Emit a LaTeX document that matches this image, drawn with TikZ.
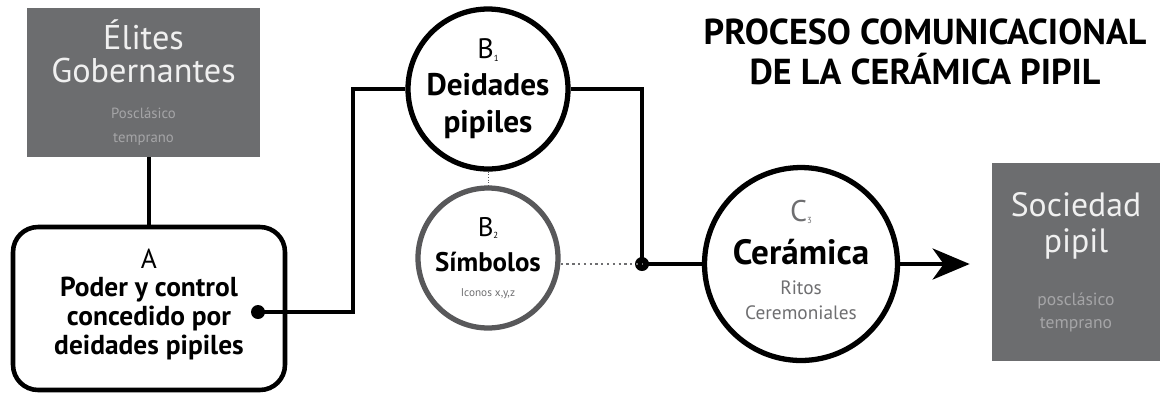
\documentclass[tikz,border=0pt]{standalone}
\usepackage{fontspec}
\setmainfont{PT Sans}
\usetikzlibrary{arrows.meta}

\definecolor{boxgray}{RGB}{108,109,111}
\definecolor{subgray}{RGB}{165,165,167}
\definecolor{ringgray}{RGB}{88,88,90}
\definecolor{notegray}{RGB}{110,110,112}

\newcommand{\idx}[1]{\raisebox{-0.15ex}{\fontsize{5}{5}\selectfont #1}}
\newcommand{\dropline}[1]{\rule[-#1]{0pt}{0pt}}

\tikzset{
  darkbox/.style={fill=boxgray, text=white!94!black, align=center, inner sep=0pt},
  ring/.style={circle, draw, line width=3pt, align=center, inner sep=0pt},
  link/.style={line width=2.6pt},
  junction/.style={circle, fill, inner sep=0pt, minimum size=0.28cm},
}

\begin{document}
\begin{tikzpicture}[x=0.02cm, y=-0.02cm]
    \useasboundingbox (0,0) rectangle (1163,393);

    % title
    \node [align=center, font=\fontsize{20.5}{22.5}\selectfont\bfseries] (title) at (925,52)
        {PROCESO COMUNICACIONAL\\DE LA CERÁMICA PIPIL};

    % boxes
    \node [darkbox, minimum width=4.66cm, minimum height=2.98cm,
           font=\fontsize{19.5}{18.5}\selectfont] (elites) at (143.5,82.5)
        {Élites\\Gobernantes\\[2pt]
         {\fontsize{8.4}{10}\selectfont\color{subgray}Posclásico}\\[-5pt]
         {\fontsize{8.4}{10}\selectfont\color{subgray}temprano}};

    \node [draw, link, rounded corners=0.5cm, align=center, minimum width=5.44cm,
           minimum height=3.26cm, font=\fontsize{15.6}{16.4}\selectfont] (poder) at (149,308.5)
        {{\mdseries A}\\\textbf{Poder y control}\\\textbf{concedido por}\\\textbf{deidades pipiles}\dropline{8pt}};

    \node [darkbox, minimum width=3.36cm, minimum height=3.96cm,
           font=\fontsize{19.2}{21}\selectfont] (sociedad) at (1076,262)
        {Sociedad\\pipil\\[9pt]
         {\fontsize{10}{12}\selectfont\color{subgray}posclásico}\\[-8pt]
         {\fontsize{10}{12}\selectfont\color{subgray}temprano}};

    % circles
    \node [ring, minimum size=3.2cm, font=\fontsize{17.8}{21}\selectfont] (deidades) at (488,89)
        {{\mdseries\fontsize{16}{21}\selectfont B\idx{1}}\\\textbf{Deidades}\\\textbf{pipiles}};

    \node [ring, draw=ringgray, minimum size=2.8cm, font=\fontsize{15.3}{20}\selectfont] (simbolos) at (488,258)
        {B\idx{2}\\\textbf{Símbolos}\\[-6pt]{\fontsize{6.4}{8}\selectfont\color{notegray}Iconos x,y,z}};

    \node [ring, minimum size=3.86cm, font=\fontsize{20}{22}\selectfont] (ceramica) at (801,264)
        {{\fontsize{17}{20}\selectfont\color{notegray}C\idx{3}}\\[3pt]\textbf{Cerámica}\\[-5pt]
         {\fontsize{11}{13}\selectfont\color{notegray}Ritos}\\[-8pt]
         {\fontsize{11}{13}\selectfont\color{notegray}Ceremoniales}\dropline{5pt}};

    % junctions
    \node [junction] (jA) at (258,312) {};
    \node [junction] (jB) at (642,264) {};
    \coordinate (bendA) at (353,89);

    % connectors
    \draw [link] (poder.north) -- (poder.north |- elites.south);
    \draw [link] (jA.center) -| (bendA) -- (deidades.west);
    \draw [link] (deidades.east) -| (jB.center);
    \draw [link] (jB.center) -- (ceramica.west);
    \draw [notegray, line width=1.3pt, dotted] (simbolos.east |- jB) -- (jB.center);
    \draw [ringgray, line width=0.5pt, densely dotted] (deidades.south) -- (simbolos.north);
    \draw [link, -{Stealth[length=0.74cm, width=0.62cm, inset=0.22cm]}, shorten >=0.44cm]
        (ceramica.east) -- (ceramica.east -| sociedad.west);

\end{tikzpicture}
\end{document}
